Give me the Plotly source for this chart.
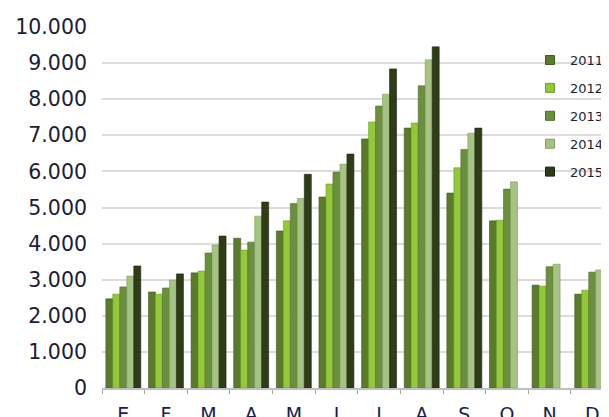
import plotly.graph_objects as go

months = ["Ene", "Feb", "Mar", "Abr", "May", "Jun", "Jul", "Ago", "Sep", "Oct", "Nov", "Dic"]
month_labels = ["E", "F", "M", "A", "M", "J", "J", "A", "S", "O", "N", "D"]
years = ["2011", "2012", "2013", "2014", "2015"]

v2011 = [2470, 2660, 3190, 4150, 4350, 5290, 6900, 7200, 5400, 4630, 2850, 2600]
v2012 = [2600, 2600, 3240, 3820, 4630, 5650, 7370, 7340, 6100, 4650, 2820, 2710]
v2013 = [2800, 2770, 3740, 4040, 5110, 5980, 7810, 8370, 6610, 5510, 3360, 3210]
v2014 = [3100, 2990, 3960, 4760, 5250, 6200, 8140, 9090, 7060, 5710, 3430, 3270]
v2015 = [3380, 3160, 4210, 5150, 5920, 6480, 8840, 9450, 7200, None, None, None]

y_ticks = [0, 1000, 2000, 3000, 4000, 5000, 6000, 7000, 8000, 9000, 10000]
y_tick_labels = ["0", "1.000", "2.000", "3.000", "4.000", "5.000", "6.000",
                 "7.000", "8.000", "9.000", "10.000"]

series = [v2011, v2012, v2013, v2014, v2015]
colors = ["#5b7a2e", "#92c83a", "#6c8f3e", "#a6c285", "#2e3c18"]
edges = ["#3f5a1c", "#6f9e22", "#4d6d28", "#7f9d5e", "#1c260d"]

fig = go.Figure()
for name, vals, c, e in zip(years, series, colors, edges):
    fig.add_trace(go.Bar(
        x=months, y=vals, name=name,
        marker=dict(color=c, line=dict(color=e, width=0.6)),
        legendgroup=name, showlegend=False,
    ))
# legend entries with small square swatches
for name, c, e in zip(years, colors, edges):
    fig.add_trace(go.Scatter(
        x=[None], y=[None], mode="markers", name=name,
        marker=dict(symbol="square", size=9, color=c, line=dict(color=e, width=1)),
        legendgroup=name, showlegend=True, hoverinfo="skip",
    ))

font_family = "DejaVu Sans"
fig.update_layout(
    width=601, height=409,
    margin=dict(l=94, r=0, t=19, b=29),
    paper_bgcolor="white", plot_bgcolor="white",
    barmode="group", bargap=0.18, bargroupgap=0.0,
    font=dict(family=font_family, color="#1c1c34"),
    showlegend=True,
    legend=dict(
        x=0.846, y=0.95, xanchor="left", yanchor="top",
        bgcolor="rgba(0,0,0,0)", font=dict(size=13, color="#1c1c34"),
        tracegroupgap=8, itemwidth=30,
    ),
)
fig.update_xaxes(
    type="category", range=[-0.5, 11.37], automargin=False,
    tickmode="array", tickvals=months, ticktext=month_labels,
    tickson="boundaries", ticks="outside", ticklen=4, tickcolor="#a6a6a6",
    showline=True, linecolor="#bfbfbf", linewidth=1.5,
    showgrid=False, tickfont=dict(size=19, color="#1c1c50"),
    ticklabelstandoff=8,
)
fig.update_yaxes(
    range=[0, 10000], automargin=False,
    tickmode="array", tickvals=y_ticks, ticktext=y_tick_labels,
    showgrid=True, gridcolor="#dcdcdc", gridwidth=2,
    zeroline=False, tickfont=dict(size=20.5, color="#1c1c34"),
    ticklabelstandoff=14,
)

fig.write_html("out.html")
